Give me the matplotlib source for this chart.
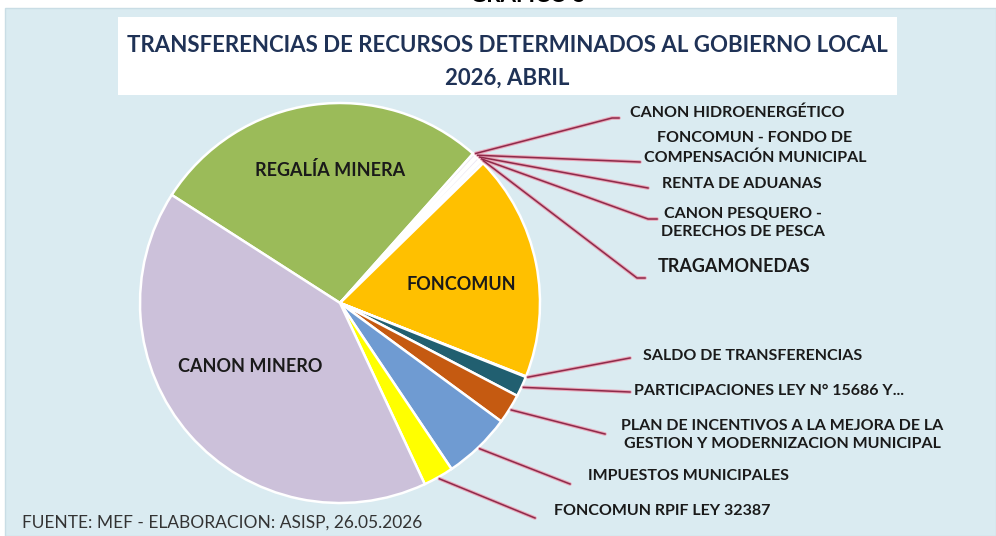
import matplotlib.pyplot as plt
import matplotlib.patches as mpatches
import numpy as np

# shares of the total (%), clockwise from REGALIA MINERA
categories = ["REGALÍA MINERA", "CANON HIDROENERGÉTICO",
              "FONCOMUN - FONDO DE\nCOMPENSACIÓN MUNICIPAL", "RENTA DE ADUANAS",
              "CANON PESQUERO -\nDERECHOS DE PESCA", "TRAGAMONEDAS", "FONCOMUN",
              "SALDO DE TRANSFERENCIAS", "PARTICIPACIONES LEY N° 15686 Y...",
              "PLAN DE INCENTIVOS A LA MEJORA DE LA\nGESTION Y MODERNIZACION MUNICIPAL",
              "IMPUESTOS MUNICIPALES", "FONCOMUN RPIF LEY 32387", "CANON MINERO"]
values = [27.5, 0.30, 0.12, 0.30, 0.12, 0.26, 18.3, 0.05, 1.65, 2.4, 5.5, 2.45, 41.05]
colors = ["#9BBB59", "#EFEAF5", "#5F4B8B", "#EFEAF5", "#5F4B8B", "#F5F5F5", "#FFC000",
          "#E6E0EC", "#215F70", "#C55A11", "#6F9BD2", "#FFFF00", "#CCC1DA"]
inside = {"REGALÍA MINERA": (330, 170), "FONCOMUN": (461, 285), "CANON MINERO": (250, 367)}

# outside labels: text position, elbow points (image pixels)
outside = {
    "CANON HIDROENERGÉTICO": ((737, 113), [(612, 118), (619, 118)]),
    "FONCOMUN - FONDO DE\nCOMPENSACIÓN MUNICIPAL": ((755, 148), [(640, 162)]),
    "RENTA DE ADUANAS": ((742, 184), [(648, 188)]),
    "CANON PESQUERO -\nDERECHOS DE PESCA": ((743, 223), [(648, 219), (657, 219)]),
    "TRAGAMONEDAS": ((734, 267), [(637, 278), (645, 278)]),
    "SALDO DE TRANSFERENCIAS": ((753, 356), [(630, 358)]),
    "PARTICIPACIONES LEY N° 15686 Y...": ((769, 391), [(630, 392)]),
    "PLAN DE INCENTIVOS A LA MEJORA DE LA\nGESTION Y MODERNIZACION MUNICIPAL": ((782, 435), [(605, 434)]),
    "IMPUESTOS MUNICIPALES": ((689, 476), [(570, 484)]),
    "FONCOMUN RPIF LEY 32387": ((662, 511), [(535, 518)]),
}

W, H = 996, 536
cx, cy, r = 340, 303, 200

fig = plt.figure(figsize=(W / 100, H / 100), dpi=100)
ax = fig.add_axes([0, 0, 1, 1])

def Y(y):
    return H - y

ax.add_patch(mpatches.Rectangle((5, 0), W - 5, Y(8), facecolor="#DAEBF1", edgecolor="#C9DDE5", lw=1))
ax.add_patch(mpatches.Rectangle((118, Y(95)), 779, 78, facecolor="white", edgecolor="none"))
fig.text(528 / W, Y(2) / H, "GRAFICO 5", ha="center", va="baseline", fontsize=16,
         fontweight="bold", family="Lato", color="black")
ax.text(507, Y(45), "TRANSFERENCIAS DE RECURSOS DETERMINADOS AL GOBIERNO LOCAL", ha="center",
        va="center", fontsize=16, fontweight="bold", family="Lato", color="#1F3256")
ax.text(507, Y(78), "2026, ABRIL", ha="center", va="center", fontsize=16,
        fontweight="bold", family="Lato", color="#1F3256")

wedges, _ = ax.pie(values, colors=colors, startangle=147.3, counterclock=False,
                   center=(cx, Y(cy)), radius=r, frame=True,
                   wedgeprops=dict(edgecolor="white", linewidth=1.8))
ax.set_xlim(0, W)
ax.set_ylim(0, H)
ax.set_aspect("equal")
ax.axis("off")

for name, (x, y) in inside.items():
    ax.text(x, Y(y), name, ha="center", va="center", fontsize=13, fontweight="bold",
            family="Lato", color="#1A1A1A")

for w, name in zip(wedges, categories):
    if name not in outside:
        continue
    (tx, ty), elbow = outside[name]
    mid = np.deg2rad((w.theta1 + w.theta2) / 2)
    if name == "SALDO DE TRANSFERENCIAS":
        mid = np.deg2rad(w.theta2)
    sx = cx + (r + 2) * np.cos(mid)
    sy = Y(cy) + (r + 2) * np.sin(mid)
    xs = [sx] + [p[0] for p in elbow]
    ys = [sy] + [Y(p[1]) for p in elbow]
    ax.plot(xs, ys, color="#E9A6B8", lw=2.6, solid_capstyle="round", zorder=3)
    ax.plot(xs, ys, color="#8E2A4A", lw=1.1, zorder=4)
    fs = 13 if name == "TRAGAMONEDAS" else 11.5
    ax.text(tx, Y(ty), name, ha="center", va="center", fontsize=fs, fontweight="bold",
            family="Lato", color="#1A1A1A", linespacing=1.4)

ax.text(22, Y(523), "FUENTE: MEF - ELABORACION: ASISP, 26.05.2026", ha="left", va="center",
        fontsize=12.5, family="Lato", color="#333333")

fig.savefig("out.png", dpi=100, facecolor="white")
